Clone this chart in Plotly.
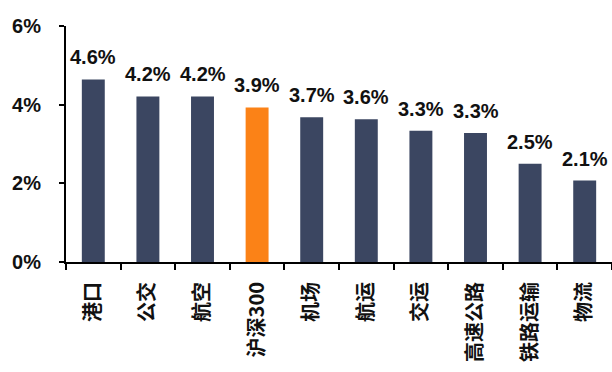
import plotly.graph_objects as go

# Sector dividend yields vs. the CSI 300 benchmark
categories = ["港口", "公交", "航空", "沪深300", "机场", "航运", "交运", "高速公路", "铁路运输", "物流"]
yields = [4.64, 4.21, 4.21, 3.93, 3.68, 3.63, 3.34, 3.28, 2.50, 2.07]
benchmark = "沪深300"
y_ticks = [0, 2, 4, 6]
y_tick_labels = ["0%", "2%", "4%", "6%"]

NAVY = "#3b4661"
ORANGE = "#fb8217"
colors = [ORANGE if c == benchmark else NAVY for c in categories]
LABEL_FONT = dict(family="Liberation Sans, Arial", size=20, color="#111111", weight="bold")

fig = go.Figure(
    go.Bar(
        x=categories,
        y=yields,
        marker=dict(color=colors, line=dict(width=0)),
        width=0.42,
        hovertemplate="%{x}: %{y:.1f}%<extra></extra>",
    )
)

# value labels sitting a little above each bar
for cat, val in zip(categories, yields):
    fig.add_annotation(
        x=cat,
        y=val,
        text=f"{val:.1f}%",
        showarrow=False,
        yanchor="bottom",
        yshift=9,
        font=LABEL_FONT,
    )

fig.update_layout(
    width=612,
    height=372,
    margin=dict(l=66, r=0, t=26, b=110),
    paper_bgcolor="white",
    plot_bgcolor="white",
    showlegend=False,
    bargap=0.58,
)

fig.update_yaxes(
    range=[0, 6],
    tickvals=y_ticks,
    ticktext=y_tick_labels,
    showgrid=False,
    zeroline=False,
    showline=True,
    linecolor="black",
    linewidth=2,
    ticks="outside",
    ticklen=5,
    tickwidth=2,
    tickcolor="black",
    ticklabelstandoff=14,
    tickfont=dict(family="Liberation Sans, Arial", size=20, color="#111111", weight="bold"),
)

fig.update_xaxes(
    showgrid=False,
    showline=True,
    linecolor="black",
    linewidth=2,
    ticks="outside",
    ticklen=6,
    tickwidth=2,
    tickcolor="black",
    tickson="boundaries",
    tickangle=-90,
    ticklabelstandoff=10,
    tickfont=dict(family="Noto Sans CJK SC", size=20, color="#111111", weight="bold"),
)

fig.write_html("out.html")
